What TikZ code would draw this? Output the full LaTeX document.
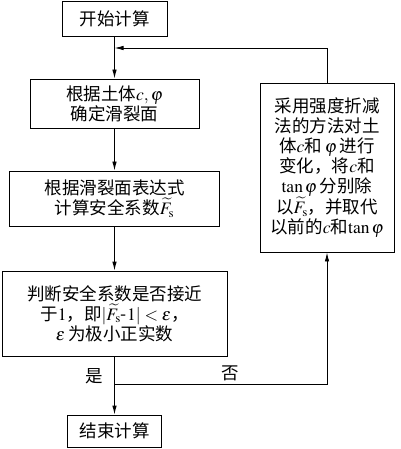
\documentclass[tikz,border=0pt]{standalone}
\usepackage{amsmath}
\usepackage{mathptmx}
\usepackage{fontspec}
\newfontfamily\cjk{Noto Sans CJK SC}
\usetikzlibrary{calc, arrows.meta}

\tikzset{
  flowbox/.style={draw, inner sep=0pt, align=center, font=\cjk\fontsize{17.5}{20}\selectfont},
  flowarrow/.style={-{Latex[length=9pt,width=4.5pt]}}
}

\begin{document}
\begin{tikzpicture}[x=1pt, y=-1pt, line width=0.9pt]
  \useasboundingbox (0,0) rectangle (400,449);
  % main column at x=114.5, loop-back column at x=327
  \node[flowbox, minimum width=105pt, minimum height=35pt] (start) at (114.5,18.5) {开始计算};
  \node[flowbox, minimum width=169pt, minimum height=49pt] (surface) at (114.5,103.5) {根据土体$c,\varphi$\\确定滑裂面};
  \node[flowbox, minimum width=210pt, minimum height=55pt] (factor) at (114.5,198.5) {根据滑裂面表达式\\计算安全系数$\widetilde{F}_{\mathrm{s}}$};
  \node[flowbox, minimum width=225pt, minimum height=85pt] (judge) at (114.5,313.5) {判断安全系数是否接近\\于$1$，即$|\widetilde{F}_{\mathrm{s}}\text{-}1|<\varepsilon$，\\$\varepsilon$\,为极小正实数};
  \node[flowbox, minimum width=94pt, minimum height=32pt] (finish) at (114.5,431) {结束计算};
  \node[flowbox, minimum width=134pt, minimum height=169pt] (reduce) at (327,167.5) {采用强度折减\\法的方法对土\\体$c$和\,$\varphi$\,进行\\变化，将$c$和\\$\tan\varphi$\,分别除\\以$\widetilde{F}_{\mathrm{s}}$，并取代\\以前的$c$和$\tan\varphi$};
  \coordinate (merge) at (114.5,48);
  \coordinate (split) at (114.5,384);
  \draw[flowarrow] (start) -- (surface);
  \draw[flowarrow] (surface) -- (factor);
  \draw[flowarrow] (factor) -- (judge);
  \draw[flowarrow] (judge) -- (finish);
  \draw[flowarrow] (split) -| (reduce.south);
  \draw[flowarrow] (reduce.north) |- (merge);
  \node[font=\cjk\fontsize{17.5}{20}\selectfont] (yes) at (94,376) {是};
  \node[font=\cjk\fontsize{17.5}{20}\selectfont] (no) at (230,373) {否};
\end{tikzpicture}
\end{document}
